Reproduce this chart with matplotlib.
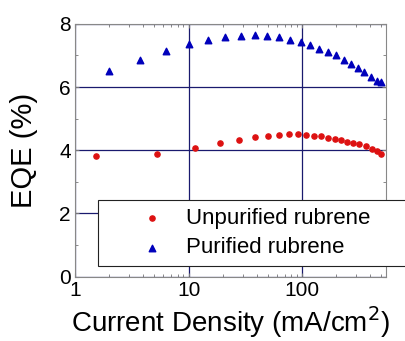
import matplotlib
matplotlib.use("Agg")
import matplotlib.pyplot as plt
from matplotlib.ticker import LogLocator, NullFormatter, FixedLocator

plt.rcParams['font.family'] = ['Liberation Sans', 'DejaVu Sans']

# unpurified rubrene (red circles)
j_unpur = [1.54, 5.3, 11.4, 19.1, 28.0, 38.8, 49.8, 63.1, 77.3, 91.6, 108, 127, 147,
           169, 194, 222, 251, 281, 318, 364, 411, 458, 497]
eqe_unpur = [3.83, 3.88, 4.07, 4.22, 4.33, 4.42, 4.46, 4.49, 4.51, 4.51, 4.49, 4.46, 4.44,
             4.40, 4.36, 4.32, 4.27, 4.22, 4.19, 4.12, 4.04, 3.97, 3.89]

# purified rubrene (blue triangles)
j_pur = [2.0, 3.76, 6.3, 10.0, 14.9, 21.1, 28.8, 38.5, 49.5, 63.1, 78.9, 98, 118, 142,
         169, 198, 235, 268, 309, 352, 402, 455, 497]
eqe_pur = [6.52, 6.86, 7.15, 7.37, 7.50, 7.60, 7.63, 7.65, 7.63, 7.57, 7.50, 7.42, 7.32,
           7.22, 7.11, 7.02, 6.85, 6.72, 6.59, 6.47, 6.32, 6.20, 6.16]

fig = plt.figure(figsize=(4.06, 3.41), dpi=100)
ax = fig.add_axes([0.185, 0.189, 0.766, 0.741])

ax.set_xscale('log')
ax.set_xlim(1, 550)
ax.set_ylim(0, 8)

ax.scatter(j_unpur, eqe_unpur, color='#dd1111', marker='o', s=14, zorder=3,
           label='Unpurified rubrene')
ax.scatter(j_pur, eqe_pur, color='#0000bb', marker='^', s=22, zorder=3,
           label='Purified rubrene')

ax.xaxis.set_major_locator(FixedLocator([1, 10, 100]))
ax.set_xticklabels(['1', '10', '100'])
ax.xaxis.set_minor_locator(LogLocator(base=10, subs=range(2, 10)))
ax.xaxis.set_minor_formatter(NullFormatter())
ax.set_yticks([0, 2, 4, 6, 8])
ax.set_yticks([1, 3, 5, 7], minor=True)

ax.grid(True, which='major', color='#1a1a6e', linewidth=0.9, zorder=1)
ax.tick_params(which='both', direction='in', top=True, right=True, color='#777777',
               labelsize=15, pad=3)
ax.tick_params(which='major', length=3)
ax.tick_params(which='minor', length=2)
for s in ax.spines.values():
    s.set_color('#888888')

ax.set_xlabel('Current Density (mA/cm$^2$)', fontsize=20, labelpad=3)
ax.set_ylabel('EQE (%)', fontsize=21, labelpad=15)

leg = fig.legend(loc='upper left', bbox_to_anchor=(0.241, 0.0, 0.9, 0.414),
                 mode='expand', fontsize=16, frameon=True, fancybox=False,
                 handlelength=4.2, handletextpad=-0.6, borderpad=0.35,
                 labelspacing=0.4, borderaxespad=0)
leg.get_frame().set_edgecolor('#222222')
leg.get_frame().set_linewidth(0.8)
leg.get_frame().set_alpha(1)

fig.savefig('out.png', dpi=100)
